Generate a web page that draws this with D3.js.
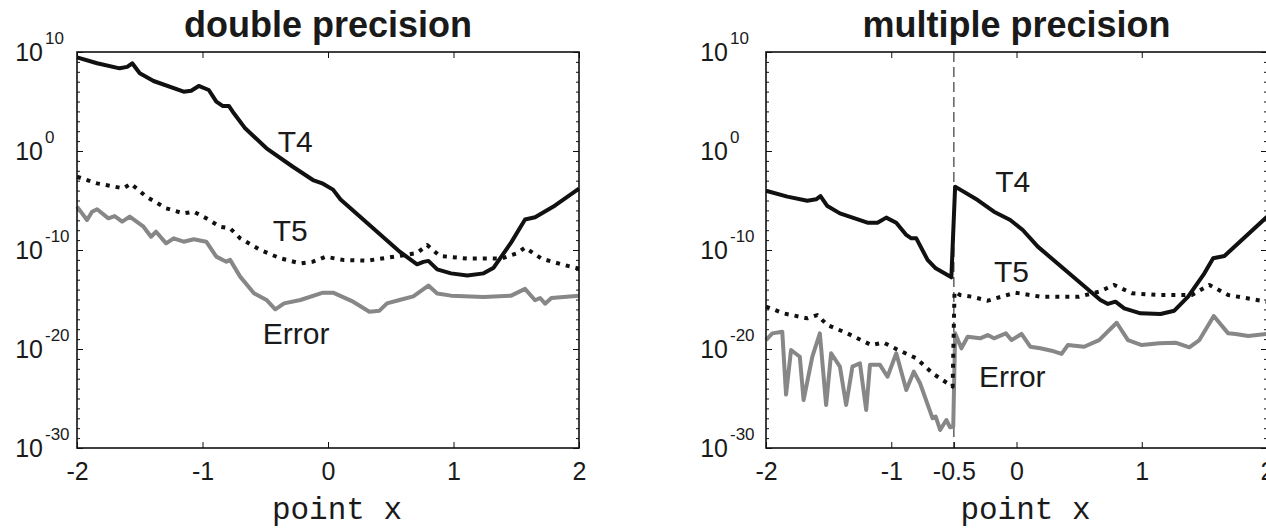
<!DOCTYPE html>
<html>
<head>
<meta charset="utf-8">
<script src="https://cdn.jsdelivr.net/npm/d3@7/dist/d3.min.js"></script>
<style>
  body { margin: 0; background: #fff; }
  text { font-family: "Liberation Sans", Arial, sans-serif; fill: #1a1a1a; }
</style>
</head>
<body>
<svg id="chart" width="1266" height="528"></svg>
<script>
// ---------------- data (y values are log10 of the plotted quantity) ----------------
var xTicksDouble = [-2, -1, 0, 1, 2];
var xTicksMulti  = [-2, -1, -0.5, 0, 1, 2];
var yMajorExp    = [10, 0, -10, -20, -30];

// double precision
var t4DoubleX   = [-2, -1.84, -1.66, -1.60, -1.56, -1.50, -1.39, -1.15, -1.09, -1.03,
                   -0.95, -0.89, -0.84, -0.79, -0.75, -0.66, -0.49, -0.28, -0.12, -0.04,
                   0.04, 0.10, 0.574, 0.71, 0.76, 0.80, 0.87, 0.98, 1.11,
                   1.24, 1.32, 1.46, 1.57, 1.65, 1.81, 2.0];
var t4DoubleLog = [9.46, 8.86, 8.35, 8.5, 8.86, 7.85, 7.07, 5.99, 6.09, 6.57,
                   6.16, 4.98, 4.55, 4.55, 3.81, 2.29, 0.27, -1.59, -2.93, -3.3,
                   -3.9, -4.9, -10.2, -11.44, -11.2, -11.1, -11.96, -12.36, -12.57,
                   -12.36, -11.79, -9.23, -6.92, -6.69, -5.5, -3.8];

var t5DoubleX   = [-2, -1.84, -1.63, -1.57, -1.45, -1.29, -1.15, -1.07, -0.97, -0.86,
                   -0.78, -0.70, -0.54, -0.38, -0.22, -0.12, -0.02, 0.12, 0.31, 0.57,
                   0.71, 0.79, 0.89, 1.11, 1.38, 1.51, 1.57, 1.70, 1.86, 2.0];
var t5DoubleLog = [-2.6, -3.27, -3.77, -3.3, -4.6, -5.79, -6.3, -6.13, -6.8, -7.65,
                   -7.81, -8.82, -10.0, -10.84, -11.35, -11.18, -10.68, -11.0, -11.08, -10.6,
                   -10.3, -9.5, -10.6, -10.87, -10.87, -10.3, -9.75, -10.87, -11.44, -11.89];

var errDoubleX   = [-2, -1.92, -1.88, -1.84, -1.75, -1.70, -1.64, -1.58, -1.47, -1.41,
                    -1.37, -1.29, -1.23, -1.15, -1.07, -0.97, -0.89, -0.81, -0.78, -0.70,
                    -0.59, -0.49, -0.42, -0.35, -0.22, -0.04, 0.04, 0.20, 0.33, 0.41,
                    0.47, 0.57, 0.68, 0.80, 0.87, 0.98, 1.24, 1.46, 1.57, 1.65,
                    1.69, 1.73, 1.78, 2.0];
var errDoubleLog = [-5.62, -6.97, -6.13, -5.89, -6.8, -6.57, -7.14, -6.63, -7.65, -8.66,
                    -8.15, -9.33, -8.82, -9.16, -8.92, -9.16, -10.67, -11.18, -11.0, -12.69,
                    -14.37, -15.05, -15.99, -15.39, -15.05, -14.31, -14.31, -15.22, -16.23, -16.13,
                    -15.39, -15.05, -14.68, -13.59, -14.4, -14.61, -14.75, -14.61, -13.93, -15.08,
                    -14.85, -15.42, -14.85, -14.61];

// multiple precision
var t4MultiX   = [-2, -1.83, -1.67, -1.60, -1.565, -1.51, -1.41, -1.19, -1.11, -1.04,
                  -0.96, -0.88, -0.84, -0.80, -0.71, -0.645, -0.52, -0.49, -0.31, -0.18,
                  -0.05, 0.05, 0.17, 0.67, 0.73, 0.79, 0.86, 0.99, 1.15, 1.26,
                  1.37, 1.50, 1.57, 1.66, 2.0];
var t4MultiLog = [-4.01, -4.61, -5.02, -4.88, -4.55, -5.56, -6.3, -7.24, -7.24, -6.73,
                  -7.24, -8.48, -8.82, -8.82, -11.0, -11.85, -12.76, -3.6, -4.95, -6.13,
                  -6.97, -7.98, -9.66, -15.05, -15.45, -15.22, -15.89, -16.4, -16.47, -16.13,
                  -14.71, -12.36, -10.84, -10.61, -6.64];

var t5MultiX   = [-2, -1.86, -1.67, -1.59, -1.51, -1.35, -1.16, -1.06, -0.96, -0.80,
                  -0.67, -0.53, -0.51, -0.495, -0.45, -0.36, -0.23, -0.01, 0.19, 0.50,
                  0.66, 0.78, 0.92, 1.14, 1.40, 1.54, 1.69, 2.0];
var t5MultiLog = [-15.72, -16.4, -16.9, -16.57, -17.58, -18.42, -19.6, -19.36, -20.0, -20.94,
                  -22.46, -23.64, -23.8, -14.2, -14.55, -14.71, -15.12, -14.31, -14.71, -14.71,
                  -14.21, -13.53, -14.37, -14.55, -14.55, -13.53, -14.55, -15.22];

var errMultiX   = [-2, -1.95, -1.87, -1.84, -1.80, -1.73, -1.70, -1.63, -1.57, -1.52,
                   -1.48, -1.41, -1.36, -1.31, -1.25, -1.20, -1.17, -1.09, -1.03, -0.96,
                   -0.88, -0.82, -0.77, -0.67, -0.645, -0.61, -0.56, -0.53, -0.505, -0.49,
                   -0.44, -0.39, -0.29, -0.23, -0.18, -0.085, -0.04, 0.04, 0.11, 0.19,
                   0.28, 0.36, 0.41, 0.54, 0.66, 0.80, 0.89, 1.0, 1.14, 1.27,
                   1.38, 1.46, 1.575, 1.69, 1.75, 1.85, 2.0];
var errMultiLog = [-19.1, -18.42, -18.26, -24.6, -20.1, -20.78, -25.15, -20.78, -18.42, -25.66,
                   -20.43, -21.78, -25.66, -21.78, -21.44, -26.16, -21.6, -21.6, -22.8, -20.43,
                   -24.14, -22.29, -23.46, -27.0, -26.83, -28.18, -27.17, -27.91, -27.84, -18.42,
                   -19.93, -18.76, -18.92, -18.59, -18.92, -18.42, -19.1, -18.48, -19.77, -19.93,
                   -20.17, -20.5, -19.6, -19.77, -19.1, -17.35, -19.1, -19.6, -19.43, -19.36,
                   -19.83, -19.1, -16.67, -18.42, -18.48, -18.69, -18.48];

// label anchors in data units [x, log10 y]
var labelsDouble = [["T4", -0.40, -0.1], ["T5", -0.44, -9.09], ["Error", -0.52, -19.5]];
var labelsMulti  = [["T4", -0.17, -4.14], ["T5", -0.18, -13.23], ["Error", -0.30, -23.84]];

// ---------------- drawing ----------------
var svg = d3.select("#chart");
var plotTop = 52, plotBottom = 448;

var panels = [
  {left: 77, right: 579, title: "double precision", xTicks: xTicksDouble, labelGap: 34,
   series: [[t4DoubleX, t4DoubleLog, "t4"], [t5DoubleX, t5DoubleLog, "t5"], [errDoubleX, errDoubleLog, "err"]],
   labels: labelsDouble, split: null},
  {left: 766, right: 1267, title: "multiple precision", xTicks: xTicksMulti, labelGap: 38,
   series: [[t4MultiX, t4MultiLog, "t4"], [t5MultiX, t5MultiLog, "t5"], [errMultiX, errMultiLog, "err"]],
   labels: labelsMulti, split: -0.5}
];

var styles = {
  t4:  {stroke: "#111", width: 4, dash: null},
  t5:  {stroke: "#111", width: 4, dash: "4,6"},
  err: {stroke: "#878787", width: 4, dash: null}
};

function blackTicks(s) {
  s.select(".domain").remove();
  s.selectAll("line").attr("stroke", "#111");
}

panels.forEach(function(p) {
  var x = d3.scaleLinear().domain([-2, 2]).range([p.left, p.right]);
  var y = d3.scaleLog().domain([1e-30, 1e10]).range([plotBottom, plotTop]);
  var g = svg.append("g");

  var allExp = d3.range(-30, 11);

  // minor + major y ticks, both sides (pointing inward)
  [[d3.axisLeft, p.left], [d3.axisRight, p.right]].forEach(function(a) {
    g.append("g").attr("transform", "translate(" + a[1] + ",0)")
      .call(a[0](y).tickValues(allExp.map(function(e){ return Math.pow(10, e); }))
            .tickSize(-3).tickSizeOuter(0).tickFormat(""))
      .call(blackTicks);
    g.append("g").attr("transform", "translate(" + a[1] + ",0)")
      .call(a[0](y).tickValues(yMajorExp.map(function(e){ return Math.pow(10, e); }))
            .tickSize(-6).tickSizeOuter(0).tickFormat(""))
      .call(blackTicks);
  });

  // x ticks top and bottom
  g.append("g").attr("transform", "translate(0," + plotBottom + ")")
    .call(d3.axisBottom(x).tickValues(p.xTicks).tickSize(-6).tickSizeOuter(0).tickPadding(14)
          .tickFormat(function(d){ return String(d); }))
    .call(function(s){
      blackTicks(s);
      s.selectAll("text").style("font-size", "25px").attr("fill", "#1a1a1a")
        .style("font-family", "'Liberation Sans', Arial, sans-serif");
    });
  g.append("g").attr("transform", "translate(0," + plotTop + ")")
    .call(d3.axisTop(x).tickValues(p.xTicks.filter(function(d){ return d !== -0.5; }))
          .tickSize(-6).tickSizeOuter(0).tickFormat(""))
    .call(blackTicks);

  // y tick labels 10^k
  yMajorExp.forEach(function(e) {
    var ty = y(Math.pow(10, e));
    g.append("text").attr("x", p.left - p.labelGap).attr("y", ty + 9)
      .attr("text-anchor", "end").style("font-size", "25px").text("10");
    g.append("text").attr("x", p.left - p.labelGap + 2).attr("y", ty - 8)
      .attr("text-anchor", "start").style("font-size", "17px").text(String(e));
  });

  // split marker
  if (p.split !== null) {
    g.append("line")
      .attr("x1", x(p.split)).attr("x2", x(p.split))
      .attr("y1", plotTop).attr("y2", plotBottom)
      .attr("stroke", "#111").attr("stroke-width", 1).attr("stroke-dasharray", "10,5");
  }

  // series
  var line = d3.line()
    .x(function(d){ return x(d[0]); })
    .y(function(d){ return y(Math.pow(10, d[1])); });

  ["err", "t5", "t4"].forEach(function(key) {
    var s = p.series.filter(function(q){ return q[2] === key; })[0];
    var st = styles[key];
    g.append("path")
      .datum(d3.zip(s[0], s[1]))
      .attr("d", line)
      .attr("fill", "none")
      .attr("stroke", st.stroke)
      .attr("stroke-width", st.width)
      .attr("stroke-linejoin", "round")
      .attr("stroke-dasharray", st.dash);
  });

  // box
  g.append("rect")
    .attr("x", p.left).attr("y", plotTop)
    .attr("width", p.right - p.left).attr("height", plotBottom - plotTop)
    .attr("fill", "none").attr("stroke", "#111").attr("stroke-width", 1.6);

  // series labels
  p.labels.forEach(function(l) {
    g.append("text").attr("x", x(l[1])).attr("y", y(Math.pow(10, l[2])))
      .style("font-size", "30px").text(l[0]);
  });

  // title
  g.append("text").attr("x", (p.left + p.right) / 2).attr("y", 37)
    .attr("text-anchor", "middle").style("font-size", "36px").style("font-weight", "bold")
    .text(p.title);

  // x label
  g.append("text").attr("x", (p.left + p.right) / 2 + 9).attr("y", 519)
    .attr("text-anchor", "middle")
    .style("font-family", "'Liberation Mono', 'Courier New', monospace")
    .style("font-size", "31px").text("point x");
});
</script>
</body>
</html>
